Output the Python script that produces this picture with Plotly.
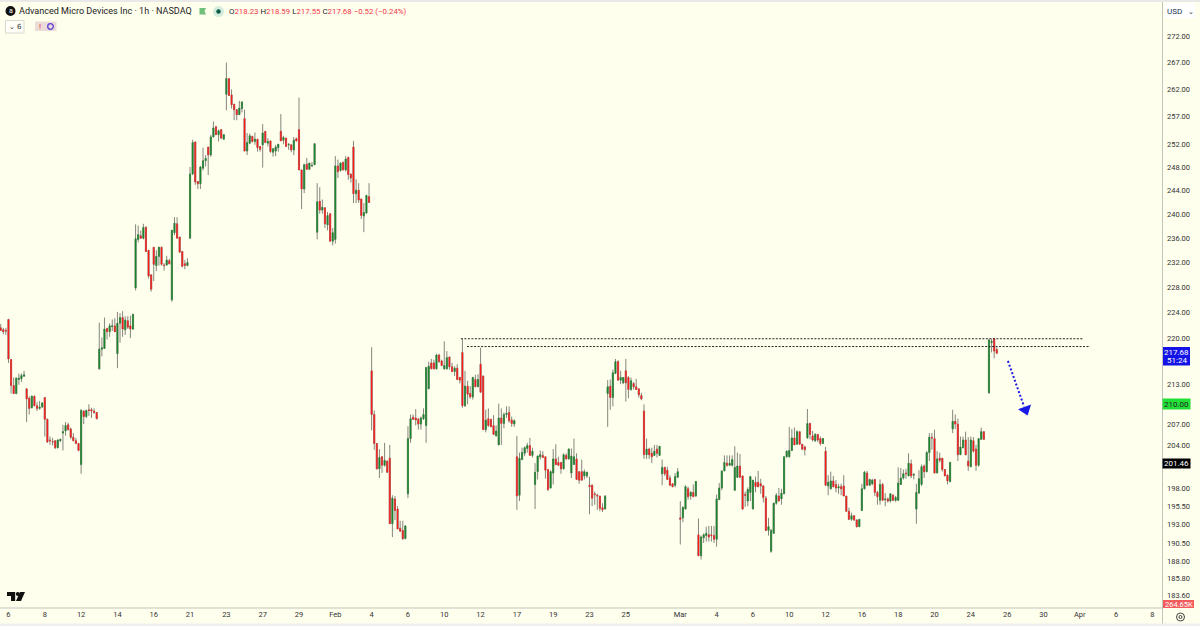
import math
import plotly.graph_objects as go

# (open, high, low, close), split in stretches
jan_a = [
    (221.6,222.2,221.1,221.2),(221.3,221.6,220.6,221.0),(221.2,221.6,220.5,221.1),(222.9,223.0,216.2,216.8),
    (216.7,216.8,211.6,212.8),(212.8,214.0,211.5,211.6),(211.6,214.0,211.5,213.9),(213.7,214.6,212.9,213.9),
    (213.8,214.6,213.3,214.3),(214.2,215.0,214.1,214.4),(212.3,212.3,207.4,210.8),(210.9,211.2,208.5,209.4),
    (209.5,211.3,209.4,211.2),(211.2,211.3,209.7,209.8),(209.8,210.3,209.0,209.4),(209.4,210.5,209.2,209.6),
    (209.6,210.3,209.5,210.2),(211.0,211.0,205.3,207.8),(207.8,207.9,204.4,204.5),(204.8,205.3,204.1,204.7),
    (204.6,205.1,204.0,204.5),(204.7,204.7,203.5,203.7),(203.7,204.9,203.6,204.8),(204.7,205.0,204.5,204.9),
    (205.8,207.0,203.3,206.0),(206.1,207.4,205.4,206.9),(207.0,207.3,206.2,206.3),(206.4,206.6,204.9,205.2),
    (205.2,205.8,204.6,204.7),(204.7,205.1,204.2,204.3),(204.3,204.4,203.2,203.3),(201.3,209.3,200.0,209.1),
    (209.0,209.1,207.1,208.2),(208.2,209.2,208.0,209.1),(209.2,210.0,208.3,209.1),(209.2,209.5,208.0,209.0),
    (209.0,209.4,208.6,208.8),(208.8,208.8,207.8,207.9),(215.3,222.4,215.2,218.3),(218.3,220.1,217.2,218.5),
    (218.4,223.2,218.4,221.4),(221.5,221.6,219.8,221.0),(221.0,222.3,220.2,221.9),(221.8,222.9,221.1,221.9),
    (221.9,223.1,221.0,221.0),(217.6,224.1,215.4,222.3),(222.3,223.9,219.3,223.2),(223.2,224.2,220.2,221.4),
    (221.3,223.4,220.5,222.8),(222.7,223.4,221.4,221.7),(221.9,223.5,220.0,221.4),(221.4,223.8,221.3,223.7),
]
jan_b = [
    (227.9,238.3,227.5,235.9),(235.8,238.1,235.3,236.6),(236.4,237.3,235.9,236.0),(236.0,238.4,235.8,237.8),
    (237.8,238.0,233.8,233.8),(234.0,234.0,229.4,229.8),(230.0,230.0,227.3,227.7),(234.5,234.5,229.0,231.7),
    (231.5,234.0,230.6,233.0),(233.0,234.6,231.5,234.5),(234.5,234.6,231.5,231.7),(231.6,231.9,230.7,231.5),
    (231.6,233.1,231.5,232.4),(232.3,232.6,231.7,231.8),(226.0,237.4,225.7,237.3),(236.9,239.5,236.5,238.5),
    (238.4,239.5,236.0,236.0),(236.2,236.2,233.7,233.7),(233.8,233.9,231.2,231.4),(231.8,232.4,230.9,231.5),
    (231.5,232.7,231.4,232.0),(236.0,248.1,236.0,246.9),(246.9,252.9,246.7,252.4),(252.5,252.6,245.0,245.5),
    (245.6,245.6,244.3,245.2),(245.2,248.3,244.3,248.1),(247.9,251.5,247.5,249.2),(249.2,250.2,248.2,249.6),
    (251.6,251.6,246.7,250.2),(250.2,253.8,249.9,253.4),(253.4,256.2,253.3,255.0),(255.2,255.4,253.8,253.8),
    (253.8,254.7,252.6,254.5),(254.7,254.8,253.0,253.2),(253.0,253.9,252.9,253.8),
]
jan_peak = [
    (261.1,267.0,258.2,264.0),(264.0,264.0,260.9,260.9),(261.0,262.0,258.5,259.2),(259.3,259.3,256.4,258.3),
    (258.3,258.4,256.4,257.4),(257.4,259.9,257.4,258.6),(258.5,259.8,257.8,259.7),(256.7,258.3,250.9,250.9),
    (250.9,254.1,250.2,252.4),(252.3,254.0,252.1,253.6),(253.5,253.6,252.4,252.6),(252.6,254.2,252.0,253.0),
    (253.0,253.0,250.8,251.5),(251.7,251.8,250.8,251.2),(252.0,255.7,248.0,254.1),(254.4,254.4,252.3,252.4),
    (252.3,253.2,251.7,252.6),(252.7,252.7,250.6,250.8),(250.7,251.4,249.9,251.3),(250.9,252.0,250.0,251.6),
    (251.5,252.1,250.8,252.1),(254.4,257.5,252.7,252.7),(252.8,253.6,252.1,253.3),(253.2,253.2,251.7,251.7),
    (252.0,252.3,251.1,252.1),(252.0,252.1,250.7,251.1),(251.1,253.4,250.2,252.8),(253.1,253.3,252.6,252.7),
    (254.7,260.5,247.6,247.6),(247.6,247.6,240.9,244.3),(244.3,248.7,243.6,248.5),(248.6,249.7,247.6,247.7),
    (247.7,248.8,247.6,248.8),(248.3,249.0,248.1,248.4),(248.5,252.3,248.5,252.2),
]
feb_top = [
    (237.0,245.3,235.8,242.1),(242.2,244.6,240.1,240.7),(240.7,242.5,240.1,241.2),(241.1,241.1,237.7,238.4),
    (238.2,240.4,237.3,239.8),(240.1,240.2,235.5,235.5),(235.5,237.7,234.8,236.9),(235.8,250.0,235.1,248.3),
    (248.3,249.4,246.2,247.3),(247.5,248.9,247.3,248.8),(248.9,249.1,247.5,247.6),(247.6,250.0,247.3,249.5),
    (249.8,249.8,245.9,246.8),(246.9,246.9,245.4,246.2),(251.6,252.7,241.9,243.5),(243.5,246.0,241.9,244.1),
    (244.1,245.3,241.9,242.4),(242.6,242.6,239.2,239.8),(239.7,241.9,237.0,240.3),(240.2,243.3,240.1,243.2),
    (243.0,245.3,242.0,242.0),
]
feb_drop = [
    (215.0,218.6,206.2,208.5),(208.5,209.1,203.4,204.3),(204.3,204.3,200.6,200.7),(200.7,203.5,199.4,202.3),
    (202.4,202.5,200.1,201.2),(201.2,204.4,201.0,201.9),(201.8,201.8,200.2,200.2),(202.2,204.1,193.1,193.1),
    (193.1,197.0,191.3,196.6),(196.5,196.9,193.6,194.9),(195.1,195.5,192.4,192.4),(192.5,193.5,192.0,192.1),
    (192.2,193.5,190.9,191.1),(191.1,192.9,191.0,192.8),(197.2,206.8,196.6,205.0),(205.0,208.5,204.4,207.9),
    (208.1,208.5,207.7,207.8),(208.0,209.3,206.9,207.7),(207.8,208.0,206.3,207.1),(207.1,208.2,206.3,208.0),
    (207.9,209.4,207.7,208.5),(206.9,215.6,204.4,215.5),(212.3,216.4,212.3,215.7),(216.2,216.8,215.3,215.3),
    (216.2,216.7,215.2,215.3),(215.3,217.6,215.2,217.4),(217.4,217.6,216.2,216.4),(216.5,216.7,215.7,215.8),
    (215.3,219.5,215.2,215.8),(215.3,218.0,215.2,217.0),(217.1,217.2,215.2,215.6),(215.6,216.2,214.8,214.9),
    (214.9,215.7,214.2,215.4),(215.4,216.0,213.6,213.7),(214.0,214.1,213.1,213.6),(217.8,219.9,209.5,209.8),
    (209.8,215.0,209.6,212.7),(212.7,213.5,210.0,211.5),(211.6,212.7,210.8,211.1),(211.1,214.1,210.7,214.0),
    (213.7,214.4,212.6,212.6),(212.6,214.5,212.6,213.7),(216.0,218.5,211.8,211.8),(214.2,214.3,206.3,206.3),
    (206.3,209.2,205.9,207.7),(207.9,209.4,206.7,206.9),(207.8,207.8,206.7,206.7),(206.9,208.4,205.6,205.6),
    (205.4,206.9,205.3,206.1),(204.1,210.1,204.1,208.0),(208.0,209.4,204.1,207.2),(207.2,208.8,206.5,208.5),
    (208.5,209.7,208.0,208.7),(208.8,209.7,207.3,207.6),(207.7,208.2,206.7,207.2),(207.1,207.8,206.7,207.6),
]
feb_mid = [
    (202.4,205.4,195.0,196.9),(197.0,203.0,196.2,202.2),(202.0,203.7,202.0,203.0),(202.9,203.9,202.5,203.7),
    (203.6,204.4,203.0,204.0),(204.0,205.1,202.6,202.6),(202.6,203.7,202.3,203.2),(198.5,201.5,195.1,200.2),
    (200.3,202.6,199.2,202.5),(202.4,203.3,202.0,202.7),(202.6,203.2,202.3,202.3),(202.4,202.4,199.3,200.5),
    (200.6,200.6,197.6,197.8),(198.0,200.5,198.0,200.3),(200.1,203.5,198.5,202.1),(202.1,204.2,201.2,201.3),
    (201.6,202.4,201.1,201.2),(201.6,201.6,200.0,200.7),(200.7,202.9,200.6,202.7),(202.6,202.9,202.0,202.1),
    (202.1,203.6,202.0,203.5),(200.1,203.6,199.4,202.5),(201.3,205.0,201.3,202.4),(202.1,202.9,199.2,199.2),
    (200.3,200.3,198.6,199.1),(200.3,202.0,199.1,199.1),(199.7,200.6,199.2,200.3),(199.7,200.3,199.4,200.2),
    (198.4,199.6,194.4,198.2),(198.4,198.5,195.5,196.6),(197.2,197.5,195.7,197.1),(197.0,197.2,195.0,196.9),
    (196.9,196.9,194.8,195.2),(195.3,195.9,194.7,195.0),(195.1,197.0,195.1,196.9),
]
feb_late = [
    (211.6,213.6,206.7,212.6),(212.7,213.7,209.2,211.0),(211.0,215.2,209.7,214.7),(214.6,216.8,214.5,216.4),
    (216.4,216.6,213.5,213.6),(213.6,215.0,213.0,214.0),(213.2,214.0,213.0,214.0),(215.0,216.8,210.4,213.2),
    (214.0,214.2,210.9,212.2),(212.2,214.0,212.0,213.5),(213.1,213.3,212.2,212.6),(212.6,213.8,212.2,212.2),
    (212.3,212.3,211.0,211.4),(211.3,211.7,210.6,210.8),(209.0,210.0,202.1,202.7),(202.7,205.0,202.1,203.5),
    (203.5,203.7,202.1,202.7),(202.9,203.7,201.5,202.4),(202.6,204.1,202.5,203.2),(203.5,204.1,202.3,202.9),
    (202.6,203.9,202.6,203.9),(200.0,202.0,198.4,200.9),(200.9,201.0,199.7,200.0),(200.5,201.0,199.2,199.2),
    (199.4,199.8,198.3,198.4),(198.6,198.7,198.1,198.2),(198.4,200.1,198.1,199.6),(199.5,200.8,199.5,200.3),
]
mar_a = [
    (193.9,196.2,190.3,193.7),(193.9,195.5,193.3,195.3),(195.1,198.4,195.1,198.2),(197.9,198.2,196.4,196.8),
    (196.9,197.6,196.4,197.4),(197.4,198.5,196.8,196.8),(196.9,199.0,196.8,198.9),(191.6,193.8,188.8,188.8),
    (188.8,191.5,188.3,191.3),(191.2,191.8,190.5,191.6),(191.5,192.7,190.7,191.8),(191.6,192.8,190.7,191.3),
    (191.6,192.8,190.7,191.5),(191.5,192.8,190.5,191.0),(191.0,197.1,190.0,196.5),(196.4,198.7,196.4,198.0),
    (198.0,200.4,197.7,200.4),(200.4,202.6,200.4,201.6),(201.5,202.6,201.0,201.2),(201.2,202.6,201.1,201.5),
    (201.2,202.6,201.0,202.0),(197.7,203.9,197.6,200.9),(199.5,203.0,199.4,201.1),(201.1,202.8,199.5,199.5),
    (199.7,199.7,195.0,195.1),(197.1,197.5,195.4,197.0),(196.2,198.1,195.5,197.8),(197.4,199.7,196.2,199.6),
    (195.1,199.1,195.1,199.1),(198.8,199.6,197.4,198.2),(198.8,200.4,198.1,198.2),(198.6,199.3,197.2,198.3),
    (198.3,198.4,196.0,196.7),(196.6,196.9,192.2,192.2),(192.2,193.9,191.5,192.7),(189.4,192.4,189.2,192.2),
    (191.8,196.0,191.8,195.9),(195.9,197.3,195.7,197.0),(196.9,198.0,196.2,196.2),(196.5,197.9,195.7,197.3),
    (197.2,202.4,197.2,202.4),(202.4,203.3,202.3,203.2),(202.4,206.7,202.3,203.3),(203.3,206.4,203.3,205.1),
    (205.1,206.6,204.1,204.1),(204.2,206.2,204.1,206.0),(206.0,206.0,204.2,204.2),(204.2,204.2,203.3,203.5),
    (203.8,204.0,202.6,203.4),(205.1,209.3,205.0,207.2),(207.2,207.3,204.9,205.6),(205.4,206.1,204.6,204.8),
    (204.7,205.8,204.5,205.6),(205.6,205.6,204.5,204.8),(205.0,205.3,204.0,204.3),(204.3,205.1,204.3,205.0),
    (203.2,203.8,198.3,198.4),(198.3,199.8,197.0,198.8),(197.9,200.3,197.8,199.0),(199.0,199.7,198.1,198.2),
    (198.5,199.1,197.4,198.0),(198.0,198.6,197.2,198.2),(198.2,198.6,197.0,197.9),(198.3,199.8,196.9,196.9),
    (196.9,196.9,194.7,194.8),(194.8,195.3,193.6,193.7),
]
mar_b = [
    (193.7,194.6,193.5,194.2),(194.2,194.2,193.5,193.6),(193.6,193.7,192.6,192.7),(192.7,193.7,192.7,193.7),
    (194.9,198.6,194.9,197.9),(197.9,200.4,197.8,200.2),(200.1,200.4,198.3,198.4),(198.4,199.3,198.3,199.2),
    (198.6,199.3,198.4,199.1),(199.2,199.3,196.9,197.4),(197.4,197.6,195.7,196.8),(196.3,199.2,195.7,198.5),
    (198.5,198.7,196.3,196.3),(196.4,197.3,195.5,196.5),(196.5,196.7,196.0,196.2),(196.2,197.3,196.0,197.2),
    (197.0,197.2,196.2,196.3),(196.3,196.9,196.1,196.7),(196.3,200.9,196.2,198.7),(198.5,200.8,198.5,199.4),
    (199.4,200.6,199.2,200.0),(200.1,200.7,199.3,200.0),(199.7,202.9,199.7,201.5),(201.4,202.0,199.4,199.7),
    (199.8,200.1,199.2,199.9),(195.1,198.6,193.1,197.4),(197.3,200.5,197.2,199.3),(198.5,201.3,198.3,201.0),
    (201.1,201.3,199.4,200.3),(200.3,203.2,200.2,203.0),(203.0,205.8,201.8,205.2),(205.2,205.8,203.4,205.1),
    (205.0,206.3,200.1,200.1),(200.1,203.2,200.1,202.1),(202.2,203.0,201.6,201.9),(202.2,202.2,200.3,200.6),
    (200.6,200.6,199.7,199.7),(199.8,199.9,198.5,199.0),(198.9,201.6,198.8,201.6),(206.4,209.2,205.8,207.5),
    (207.5,208.5,206.4,207.1),(207.1,207.9,201.8,202.7),(202.7,205.3,202.7,203.8),(203.7,205.3,203.6,204.8),
    (204.8,206.0,202.6,202.7),(201.8,205.2,200.4,201.1),(201.0,205.3,200.9,204.8),(204.7,205.2,203.0,203.2),
    (203.5,204.1,200.4,201.2),(201.2,205.0,201.0,205.0),(204.9,206.6,204.8,206.0),(206.0,206.1,204.8,204.9),
]
mar_last = [
    (211.7,219.9,211.6,219.7),(219.3,219.9,217.8,219.5),(219.9,220.0,216.9,218.0),(218.23,218.59,217.55,217.68),
]

bars = jan_a + jan_b + jan_peak + feb_top + feb_drop + feb_mid + feb_late + mar_a + mar_b
# the last session starts one slot further along
last_start = len(bars) + 1
bar_index = list(range(len(bars))) + list(range(last_start, last_start + len(mar_last)))
bars = bars + mar_last
opens, highs, lows, closes = [list(c) for c in zip(*bars)]

date_ticks = [3,17,31,45,59,73,87,101,115,129,143,157,171,185,199,213,227,241,262,276,290,304,318,332,346,360,374,388,402,416,430,444]
date_labels = ["6","8","12","14","16","21","23","27","29","Feb","4","6","10","12","17","19","23","25","Mar","4","6","10","12","16","18","20","24","26","30","Apr","6","8"]
price_ticks = [272,267,262,257,252,248,244,240,236,232,228,224,220,213,207,204,198,195.5,193,190.5,188,185.8,183.6]

level_top = [219.9, 219.9]
level_top_x = [177.4, 417.2]
level_low = [218.7, 218.7]
level_low_x = [179.8, 420.0]
arrow_x = [388.3, 394.5]
arrow_y = [216.5, 209.7]
arrow_tip_x = [395.1]
arrow_tip_y = [209.2]

BG = "#ffffee"
RED = "#ff1a1a"
GREEN = "#15882a"
W, H = 1200, 626
L_W, T, PLOT_R, PLOT_B = 0, 2, 1162, 608


def px(x):
    return x / PLOT_R


def py(y):
    return 1 - (y - T) / (PLOT_B - T)


fig = go.Figure()
# wicks
fig.add_trace(go.Candlestick(
    x=bar_index, open=opens, high=highs, low=lows, close=closes, whiskerwidth=0,
    increasing=dict(line=dict(color="#85857c", width=1), fillcolor="#85857c"),
    decreasing=dict(line=dict(color="#85857c", width=1), fillcolor="#85857c"),
    showlegend=False, hoverinfo="skip"))
# bodies on top
fig.add_trace(go.Candlestick(
    x=bar_index, open=opens, close=closes,
    high=[max(o, c) for o, c in zip(opens, closes)],
    low=[min(o, c) for o, c in zip(opens, closes)], whiskerwidth=0,
    increasing=dict(line=dict(color=GREEN, width=0.3), fillcolor=GREEN),
    decreasing=dict(line=dict(color=RED, width=0.3), fillcolor=RED),
    showlegend=False, hoverinfo="skip"))

fig.add_trace(go.Scatter(x=level_top_x, y=level_top, mode="lines", showlegend=False,
                         line=dict(color="#222222", width=1, dash="2px,1.5px")))
fig.add_trace(go.Scatter(x=level_low_x, y=level_low, mode="lines", showlegend=False,
                         line=dict(color="#222222", width=1, dash="2px,1.5px")))
fig.add_trace(go.Scatter(x=arrow_x, y=arrow_y, mode="lines", showlegend=False,
                         line=dict(color="#1a1ae6", width=2, dash="2px,2px")))
fig.add_trace(go.Scatter(x=arrow_tip_x, y=arrow_tip_y, mode="markers", showlegend=False,
                         marker=dict(symbol="triangle-down", size=12, angle=-20, color="#1a1ae6")))

shapes = []
annots = []


def rect(x0, y0, x1, y1, fill, line=None):
    shapes.append(dict(type="rect", xref="paper", yref="paper", x0=px(x0), x1=px(x1), y0=py(y0), y1=py(y1),
                       fillcolor=fill, line=dict(color=line or fill, width=1 if line else 0), layer="above"))


def circle(cx, cy, r, fill, line=None, lw=1):
    shapes.append(dict(type="circle", xref="paper", yref="paper", x0=px(cx - r), x1=px(cx + r), y0=py(cy - r), y1=py(cy + r),
                       fillcolor=fill, line=dict(color=line or fill, width=lw if line else 0), layer="above"))


def poly(points, fill):
    d = "M " + " L ".join(f"{px(x):.5f} {py(y):.5f}" for x, y in points) + " Z"
    shapes.append(dict(type="path", xref="paper", yref="paper", path=d, fillcolor=fill, line=dict(width=0), layer="above"))


def text(x, y, s, size=8, color="#333333", anchor="left", family="Roboto"):
    annots.append(dict(xref="paper", yref="paper", x=px(x), y=py(y), text=s, showarrow=False, xanchor=anchor, yanchor="middle",
                       font=dict(size=size, color=color, family=family), borderpad=0, borderwidth=0))


def price_tag(y_price, label, bg, fg, y_size=8, w=27, h=10):
    annots.append(dict(xref="paper", yref="y", x=px(1176.5), y=math.log10(y_price), text=label, showarrow=False, xanchor="center",
                       yanchor="middle", bgcolor=bg, width=w, height=h, borderpad=0, align="center",
                       font=dict(size=y_size, color=fg, family="Roboto")))


# frame
rect(0, 0, W, 2, "#e9e9e9")
rect(0, 623.5, W, 626, "#efefef")
rect(0, 607.6, 1162, 608.6, "#c4c4bc")
rect(1162, 2, 1163, 623.5, "#c4c4bc")

# legend row
circle(10.5, 11, 5, "#111111")
text(10.5, 11, "a", size=7, color="#ffffff", anchor="center")
text(18.5, 11, "Advanced Micro Devices Inc · 1h · NASDAQ", size=9.05, color="#222222")
poly([(199.5, 8), (206, 8), (204.5, 11), (206, 14.5), (199.5, 14.5)], "#6fc07a")
circle(218.5, 11.5, 5.5, "#d3ecdc")
circle(218.5, 11.5, 2.2, "#0b5c46")
r = lambda v: f'<span style="color:#f23645">{v}</span>'
text(229, 12, "O" + r("218.23") + " H" + r("218.59") + " L" + r("217.55") + " C" + r("217.68") + " " + r("−0.52 (−0.24%)"),
     size=7.85, color="#222222")
rect(5.5, 20.5, 24, 33, "#fffff8", "#d8d8d0")
text(15, 27, "⌄ 6", size=7, color="#333333", anchor="center", family="DejaVu Sans")
rect(35, 21.5, 56.5, 31, "#ecdcd8")
text(40, 26.5, "!", size=8, color="#e03030", anchor="center")
circle(50.5, 26.5, 2.8, "#ecdcd8", "#5a3fd8", 1.3)

# right side
rect(1165, 3, 1195, 18, "#ffffff")
text(1167, 12, "USD", size=8, color="#223355")
text(1190.5, 12, "⌄", size=7, color="#333333", anchor="center", family="DejaVu Sans")
rect(1163, 347, 1190, 365.5, "#1414e6")
text(1176.5, 352.5, "217.68", size=8, color="#ffffff", anchor="center")
text(1176.5, 360.5, "51:24", size=8, color="#ffffff", anchor="center")
price_tag(210.0, "210.00", "#22e038", "#222222")
price_tag(201.46, "201.46", "#000000", "#ffffff", h=9)
rect(1163, 600, 1194, 608, "#f45c5c")
text(1178.5, 604.5, "264.65K", size=7.5, color="#ffffff", anchor="center")

# settings cog
circle(1180.5, 617, 4, BG, "#444444", 1)
circle(1180.5, 617, 1.5, BG, "#444444", 1)

# TradingView mark
poly([(7, 592), (15.2, 592), (15.2, 601), (11, 601), (11, 596), (7, 596)], "#111111")
circle(17.8, 594, 2, "#111111")
poly([(20, 592), (25, 592), (21, 601), (16, 601)], "#111111")

fig.update_layout(
    width=W, height=H, paper_bgcolor=BG, plot_bgcolor=BG,
    margin=dict(l=L_W, r=W - PLOT_R, t=T, b=H - PLOT_B, pad=0),
    boxgap=0.38, showlegend=False, shapes=shapes, annotations=annots,
    font=dict(family="Roboto", color="#333333"),
    xaxis=dict(range=[-0.27, 447.7], rangeslider=dict(visible=False), showgrid=False, zeroline=False,
               tickmode="array", tickvals=date_ticks, ticktext=date_labels, ticks="", showline=False,
               tickfont=dict(size=7.5, color="#333333", family="Roboto")),
    yaxis=dict(type="log", range=[math.log10(182.0), math.log10(278.6)], side="right", showgrid=False, zeroline=False,
               tickmode="array", tickvals=price_ticks, ticktext=[f"{v:.2f}" for v in price_ticks], ticks="", showline=False,
               ticklabelstandoff=4, tickfont=dict(size=7.5, color="#333333", family="Roboto")),
)

fig.write_html("out.html", config=dict(displayModeBar=False), post_script="document.body.style.margin='0';")
